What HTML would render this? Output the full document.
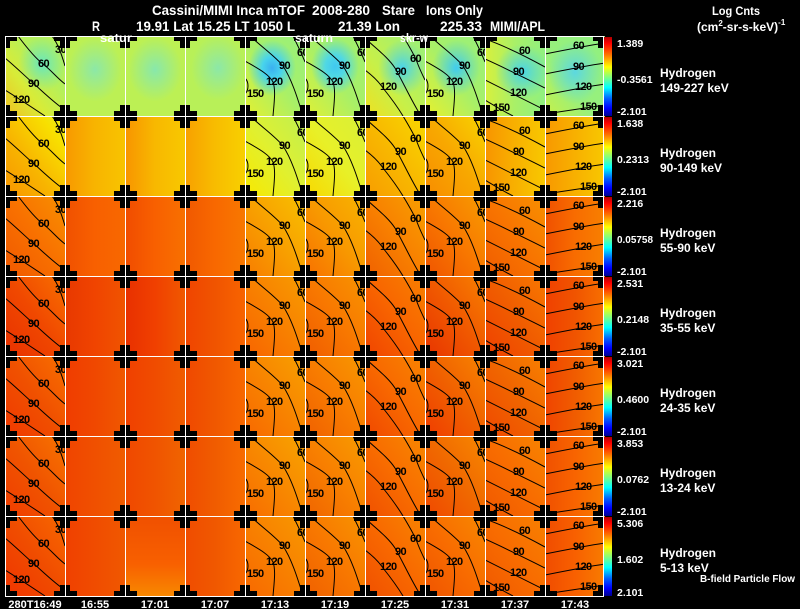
<!DOCTYPE html>
<html><head><meta charset="utf-8"><style>
html,body{margin:0;padding:0;background:#000;}
#w{position:relative;width:800px;height:609px;overflow:hidden;background:#000;}
.p{position:absolute;width:60px;height:80px;}
.r1{top:36px}.r2{top:116px}.r3{top:196px}.r4{top:276px}.r5{top:356px}.r6{top:436px}.r7{top:516px}
.c1{left:5px}.c2{left:65px}.c3{left:125px}.c4{left:185px}.c5{left:245px}.c6{left:305px}.c7{left:365px}.c8{left:425px}.c9{left:485px}.c10{left:545px}
svg.o{position:absolute;left:0;top:0;}
</style></head><body><div id="w">
<!-- Row 1 -->
<div class="p r1 c1" style="background:radial-gradient(ellipse 40% 35% at 62% 35%,rgba(80,228,220,.75),rgba(80,228,220,0)),linear-gradient(to top right,#f0c020 0%,#d8ec38 35%,#b4f05c 65%,#b8f058 100%)"></div>
<div class="p r1 c2" style="background:radial-gradient(ellipse 45% 40% at 50% 42%,#8ce8a8,rgba(140,232,168,0)),#bcf054"></div>
<div class="p r1 c3" style="background:radial-gradient(ellipse 45% 40% at 50% 42%,#88e8ac,rgba(136,232,172,0)),#bcf054"></div>
<div class="p r1 c4" style="background:radial-gradient(ellipse 45% 40% at 55% 40%,#8ce8a8,rgba(140,232,168,0)),#b8f058"></div>
<div class="p r1 c5" style="background:radial-gradient(ellipse 40% 35% at 45% 40%,#3ab0f0 0%,#48d4ec 40%,rgba(72,212,236,0) 100%),linear-gradient(to top right,#e4f030 0%,#a8f068 50%,#98f07c 100%)"></div>
<div class="p r1 c6" style="background:radial-gradient(ellipse 40% 35% at 50% 38%,#40c8f0 0%,#50d8e4 40%,rgba(80,216,228,0) 100%),linear-gradient(to top right,#e0f034 0%,#a8f068 50%,#a0f070 100%)"></div>
<div class="p r1 c7" style="background:radial-gradient(ellipse 40% 35% at 62% 40%,#48d4ec,rgba(72,212,236,0)),linear-gradient(to top right,#f0e020 0%,#c8f048 40%,#98f07c 100%)"></div>
<div class="p r1 c8" style="background:radial-gradient(ellipse 40% 35% at 52% 40%,#40ccf0,rgba(64,204,240,0)),linear-gradient(to top right,#e8f02c 0%,#a8f068 50%,#98f07c 100%)"></div>
<div class="p r1 c9" style="background:radial-gradient(ellipse 45% 35% at 62% 45%,#48d4e8,rgba(72,212,232,0)),linear-gradient(to right,#d8f03c 0%,#a8f068 50%,#90f080 100%)"></div>
<div class="p r1 c10" style="background:radial-gradient(ellipse 45% 40% at 50% 45%,#5cd8e0,rgba(92,216,224,0)),linear-gradient(to top right,#c8f048,#98f07c 40%,#90f080)"></div>
<!-- Row 2 -->
<div class="p r2 c1" style="background:linear-gradient(to top right,#f89400 0%,#f8b400 40%,#f8e000 80%,#e8f020 100%)"></div>
<div class="p r2 c2" style="background:linear-gradient(to right,#f89800,#f8b400 50%,#f8c400)"></div>
<div class="p r2 c3" style="background:linear-gradient(to right,#f89400,#f8b800 50%,#f8c800)"></div>
<div class="p r2 c4" style="background:linear-gradient(to right,#f8a000,#f8bc00 50%,#f8d000)"></div>
<div class="p r2 c5" style="background:linear-gradient(to top right,#f8e800,#e0f030 50%,#c0f050)"></div>
<div class="p r2 c6" style="background:linear-gradient(to top right,#f8d800,#e8f028 50%,#d8f038)"></div>
<div class="p r2 c7" style="background:linear-gradient(to top right,#f89c00,#f8b800 50%,#f8d800)"></div>
<div class="p r2 c8" style="background:linear-gradient(to top right,#f88c00,#f8a800 50%,#f8d400)"></div>
<div class="p r2 c9" style="background:linear-gradient(to right,#f89400,#f8b000 50%,#f8c800)"></div>
<div class="p r2 c10" style="background:linear-gradient(to right,#f89800,#f8b000 50%,#f8c800)"></div>
<!-- Row 3 -->
<div class="p r3 c1" style="background:linear-gradient(to top right,#f05800,#f87000 50%,#f89000)"></div>
<div class="p r3 c2" style="background:linear-gradient(to right,#f05000,#f86000 50%,#f86800)"></div>
<div class="p r3 c3" style="background:linear-gradient(to right,#f04c00,#f86000 50%,#f87000)"></div>
<div class="p r3 c4" style="background:linear-gradient(to right,#f05800,#f86800 50%,#f87800)"></div>
<div class="p r3 c5" style="background:linear-gradient(to top right,#f87c00,#f8a000 50%,#f8c000)"></div>
<div class="p r3 c6" style="background:linear-gradient(to top right,#f87000,#f89800 50%,#f8b400)"></div>
<div class="p r3 c7" style="background:linear-gradient(to top right,#f06000,#f88000 50%,#f8a000)"></div>
<div class="p r3 c8" style="background:linear-gradient(to top right,#f05400,#f87800 50%,#f89c00)"></div>
<div class="p r3 c9" style="background:linear-gradient(to top right,#f05c00,#f87400 50%,#f89000)"></div>
<div class="p r3 c10" style="background:linear-gradient(to right,#f05000,#f86c00 50%,#f88000)"></div>
<!-- Row 4 -->
<div class="p r4 c1" style="background:linear-gradient(to top right,#e83000,#f04800 50%,#f87000)"></div>
<div class="p r4 c2" style="background:linear-gradient(to right,#e83800,#f04400 50%,#f05400)"></div>
<div class="p r4 c3" style="background:linear-gradient(to right,#e83000,#f04000 50%,#f05800)"></div>
<div class="p r4 c4" style="background:linear-gradient(to right,#f04400,#f05400 50%,#f86400)"></div>
<div class="p r4 c5" style="background:linear-gradient(to top right,#f86400,#f88000 50%,#f89c00)"></div>
<div class="p r4 c6" style="background:linear-gradient(to top right,#f05c00,#f87800 50%,#f89400)"></div>
<div class="p r4 c7" style="background:linear-gradient(to top right,#f04400,#f86400 50%,#f88000)"></div>
<div class="p r4 c8" style="background:linear-gradient(to top right,#e83400,#f05800 50%,#f88000)"></div>
<div class="p r4 c9" style="background:linear-gradient(to top right,#f04000,#f05c00 50%,#f87800)"></div>
<div class="p r4 c10" style="background:linear-gradient(to right,#f04000,#f05400 50%,#f87000)"></div>
<!-- Row 5 -->
<div class="p r5 c1" style="background:linear-gradient(to top right,#f03800,#f05000 50%,#f87000)"></div>
<div class="p r5 c2" style="background:linear-gradient(to right,#f03c00,#f04800 50%,#f05800)"></div>
<div class="p r5 c3" style="background:linear-gradient(to right,#f04000,#f04c00 50%,#f05c00)"></div>
<div class="p r5 c4" style="background:linear-gradient(to right,#f04800,#f05800 50%,#f86800)"></div>
<div class="p r5 c5" style="background:linear-gradient(to top right,#f86800,#f88400 50%,#f8a000)"></div>
<div class="p r5 c6" style="background:linear-gradient(to top right,#f06000,#f87c00 50%,#f89800)"></div>
<div class="p r5 c7" style="background:linear-gradient(to top right,#f04800,#f86800 50%,#f88400)"></div>
<div class="p r5 c8" style="background:linear-gradient(to top right,#f03c00,#f06000 50%,#f88400)"></div>
<div class="p r5 c9" style="background:linear-gradient(to top right,#f04800,#f06400 50%,#f88000)"></div>
<div class="p r5 c10" style="background:linear-gradient(to right,#f04400,#f05c00 50%,#f87800)"></div>
<!-- Row 6 -->
<div class="p r6 c1" style="background:linear-gradient(to top right,#f03c00,#f05400 50%,#f87400)"></div>
<div class="p r6 c2" style="background:linear-gradient(to right,#f04400,#f05000 50%,#f05c00)"></div>
<div class="p r6 c3" style="background:linear-gradient(to right,#f04800,#f05400 50%,#f06400)"></div>
<div class="p r6 c4" style="background:linear-gradient(to right,#f04c00,#f05c00 50%,#f86c00)"></div>
<div class="p r6 c5" style="background:linear-gradient(to top right,#f86c00,#f88800 50%,#f8a400)"></div>
<div class="p r6 c6" style="background:linear-gradient(to top right,#f06400,#f88000 50%,#f89c00)"></div>
<div class="p r6 c7" style="background:linear-gradient(to top right,#f05000,#f86c00 50%,#f88800)"></div>
<div class="p r6 c8" style="background:linear-gradient(to top right,#f04800,#f06800 50%,#f88800)"></div>
<div class="p r6 c9" style="background:linear-gradient(to top right,#f05800,#f86c00 50%,#f88400)"></div>
<div class="p r6 c10" style="background:linear-gradient(to right,#f05000,#f86400 50%,#f87c00)"></div>
<!-- Row 7 -->
<div class="p r7 c1" style="background:linear-gradient(to top right,#f03400,#f04c00 50%,#f86800)"></div>
<div class="p r7 c2" style="background:linear-gradient(to right,#f04000,#f04c00 50%,#f05800)"></div>
<div class="p r7 c3" style="background:linear-gradient(to bottom,#f05000,#f86000 60%,#f88800)"></div>
<div class="p r7 c4" style="background:linear-gradient(to right,#f04c00,#f05800 50%,#f86800)"></div>
<div class="p r7 c5" style="background:linear-gradient(to top right,#f86800,#f88000 50%,#f89800)"></div>
<div class="p r7 c6" style="background:linear-gradient(to top right,#f06000,#f87800 50%,#f89400)"></div>
<div class="p r7 c7" style="background:linear-gradient(to top right,#f05000,#f86800 50%,#f88400)"></div>
<div class="p r7 c8" style="background:linear-gradient(to top right,#f05400,#f86c00 50%,#f88800)"></div>
<div class="p r7 c9" style="background:linear-gradient(to top right,#f05800,#f86c00 50%,#f88000)"></div>
<div class="p r7 c10" style="background:linear-gradient(to right,#f04c00,#f86000 50%,#f87c00)"></div>

<svg class="o" width="800" height="609" viewBox="0 0 800 609" xmlns="http://www.w3.org/2000/svg">
<defs>
<g id="pA" fill="none" stroke="#000" stroke-width="1"><path d="M47,0 C52,6 56,16 60,30 M13,0 C22,12 30,22 38,28 S52,42 60,48 M0,22 C12,32 22,42 28,47 S48,66 60,74 M0,54 C10,60 25,70 40,80"/></g>
<g id="pB" fill="none" stroke="#000" stroke-width="1"><path d="M48,0 C52,8 56,16 60,26 M5,0 C18,12 32,22 38,30 C46,42 52,60 58,80 M0,25 C12,32 24,38 28,46 C31,54 29,68 28,80 M0,42 C4,46 4,54 0,58"/></g>
<g id="pC" fill="none" stroke="#000" stroke-width="1"><path d="M38,0 C44,10 50,20 52,26 C55,34 58,40 60,44 M0,2 C10,12 22,20 30,32 C38,46 46,64 56,80 M0,34 C8,40 14,46 18,52 C26,62 32,70 38,80"/></g>
<g id="pD" fill="none" stroke="#000" stroke-width="1"><path d="M0,3 C20,10 40,20 60,31 M0,23 C20,32 40,42 60,52 M0,44 C20,54 40,64 60,74 M0,64 C10,70 20,76 28,80"/></g>
<g id="pE" fill="none" stroke="#000" stroke-width="1"><path d="M0,18 C20,14 40,10 60,7 M0,38 C20,34 40,30 60,27 M0,59 C20,55 40,51 60,48 M0,78 C20,75 40,72 60,69"/></g>
<pattern id="pl" x="-25" y="-4" width="60" height="80" patternUnits="userSpaceOnUse"><rect x="19" y="35" width="23" height="10" fill="#000"/><rect x="25" y="29" width="10" height="23" fill="#000"/></pattern>
<linearGradient id="cb" x1="0" y1="0" x2="0" y2="1">
<stop offset="0" stop-color="#b00000"/><stop offset=".08" stop-color="#ff0000"/><stop offset=".22" stop-color="#ff7000"/><stop offset=".38" stop-color="#ffff00"/><stop offset=".51" stop-color="#80ff80"/><stop offset=".64" stop-color="#00ffff"/><stop offset=".78" stop-color="#0060ff"/><stop offset=".9" stop-color="#0000ff"/><stop offset="1" stop-color="#000090"/>
</linearGradient>
</defs>

<g font-family="Liberation Sans, sans-serif" font-size="11" font-weight="bold" fill="#000" letter-spacing="-0.6">
<!-- row 1 -->
<svg x="5" y="36" width="60" height="80"><use href="#pA"/><text x="50" y="17">30</text><text x="33" y="31">60</text><text x="23" y="51">90</text><text x="8" y="67">120</text></svg>
<svg x="245" y="36" width="60" height="80"><use href="#pB"/><text x="52" y="20">60</text><text x="34" y="33">90</text><text x="21" y="49">120</text><text x="2" y="61">150</text></svg>
<svg x="305" y="36" width="60" height="80"><use href="#pB"/><text x="52" y="20">60</text><text x="34" y="33">90</text><text x="21" y="49">120</text><text x="2" y="61">150</text></svg>
<svg x="365" y="36" width="60" height="80"><use href="#pC"/><text x="45" y="26">60</text><text x="30" y="39">90</text><text x="15" y="54">120</text></svg>
<svg x="425" y="36" width="60" height="80"><use href="#pB"/><text x="52" y="20">60</text><text x="34" y="33">90</text><text x="21" y="49">120</text><text x="2" y="61">150</text></svg>
<svg x="485" y="36" width="60" height="80"><use href="#pD"/><text x="34" y="18">60</text><text x="28" y="39">90</text><text x="25" y="60">120</text><text x="8" y="75">150</text></svg>
<svg x="545" y="36" width="60" height="80"><use href="#pE"/><text x="28" y="13">60</text><text x="28" y="34">90</text><text x="30" y="54">120</text><text x="35" y="74">150</text></svg>
<!-- row 2 -->
<svg x="5" y="116" width="60" height="80"><use href="#pA"/><text x="50" y="17">30</text><text x="33" y="31">60</text><text x="23" y="51">90</text><text x="8" y="67">120</text></svg>
<svg x="245" y="116" width="60" height="80"><use href="#pB"/><text x="52" y="20">60</text><text x="34" y="33">90</text><text x="21" y="49">120</text><text x="2" y="61">150</text></svg>
<svg x="305" y="116" width="60" height="80"><use href="#pB"/><text x="52" y="20">60</text><text x="34" y="33">90</text><text x="21" y="49">120</text><text x="2" y="61">150</text></svg>
<svg x="365" y="116" width="60" height="80"><use href="#pC"/><text x="45" y="26">60</text><text x="30" y="39">90</text><text x="15" y="54">120</text></svg>
<svg x="425" y="116" width="60" height="80"><use href="#pB"/><text x="52" y="20">60</text><text x="34" y="33">90</text><text x="21" y="49">120</text><text x="2" y="61">150</text></svg>
<svg x="485" y="116" width="60" height="80"><use href="#pD"/><text x="34" y="18">60</text><text x="28" y="39">90</text><text x="25" y="60">120</text><text x="8" y="75">150</text></svg>
<svg x="545" y="116" width="60" height="80"><use href="#pE"/><text x="28" y="13">60</text><text x="28" y="34">90</text><text x="30" y="54">120</text><text x="35" y="74">150</text></svg>
<!-- row 3 -->
<svg x="5" y="196" width="60" height="80"><use href="#pA"/><text x="50" y="17">30</text><text x="33" y="31">60</text><text x="23" y="51">90</text><text x="8" y="67">120</text></svg>
<svg x="245" y="196" width="60" height="80"><use href="#pB"/><text x="52" y="20">60</text><text x="34" y="33">90</text><text x="21" y="49">120</text><text x="2" y="61">150</text></svg>
<svg x="305" y="196" width="60" height="80"><use href="#pB"/><text x="52" y="20">60</text><text x="34" y="33">90</text><text x="21" y="49">120</text><text x="2" y="61">150</text></svg>
<svg x="365" y="196" width="60" height="80"><use href="#pC"/><text x="45" y="26">60</text><text x="30" y="39">90</text><text x="15" y="54">120</text></svg>
<svg x="425" y="196" width="60" height="80"><use href="#pB"/><text x="52" y="20">60</text><text x="34" y="33">90</text><text x="21" y="49">120</text><text x="2" y="61">150</text></svg>
<svg x="485" y="196" width="60" height="80"><use href="#pD"/><text x="34" y="18">60</text><text x="28" y="39">90</text><text x="25" y="60">120</text><text x="8" y="75">150</text></svg>
<svg x="545" y="196" width="60" height="80"><use href="#pE"/><text x="28" y="13">60</text><text x="28" y="34">90</text><text x="30" y="54">120</text><text x="35" y="74">150</text></svg>
<!-- row 4 -->
<svg x="5" y="276" width="60" height="80"><use href="#pA"/><text x="50" y="17">30</text><text x="33" y="31">60</text><text x="23" y="51">90</text><text x="8" y="67">120</text></svg>
<svg x="245" y="276" width="60" height="80"><use href="#pB"/><text x="52" y="20">60</text><text x="34" y="33">90</text><text x="21" y="49">120</text><text x="2" y="61">150</text></svg>
<svg x="305" y="276" width="60" height="80"><use href="#pB"/><text x="52" y="20">60</text><text x="34" y="33">90</text><text x="21" y="49">120</text><text x="2" y="61">150</text></svg>
<svg x="365" y="276" width="60" height="80"><use href="#pC"/><text x="45" y="26">60</text><text x="30" y="39">90</text><text x="15" y="54">120</text></svg>
<svg x="425" y="276" width="60" height="80"><use href="#pB"/><text x="52" y="20">60</text><text x="34" y="33">90</text><text x="21" y="49">120</text><text x="2" y="61">150</text></svg>
<svg x="485" y="276" width="60" height="80"><use href="#pD"/><text x="34" y="18">60</text><text x="28" y="39">90</text><text x="25" y="60">120</text><text x="8" y="75">150</text></svg>
<svg x="545" y="276" width="60" height="80"><use href="#pE"/><text x="28" y="13">60</text><text x="28" y="34">90</text><text x="30" y="54">120</text><text x="35" y="74">150</text></svg>
<!-- row 5 -->
<svg x="5" y="356" width="60" height="80"><use href="#pA"/><text x="50" y="17">30</text><text x="33" y="31">60</text><text x="23" y="51">90</text><text x="8" y="67">120</text></svg>
<svg x="245" y="356" width="60" height="80"><use href="#pB"/><text x="52" y="20">60</text><text x="34" y="33">90</text><text x="21" y="49">120</text><text x="2" y="61">150</text></svg>
<svg x="305" y="356" width="60" height="80"><use href="#pB"/><text x="52" y="20">60</text><text x="34" y="33">90</text><text x="21" y="49">120</text><text x="2" y="61">150</text></svg>
<svg x="365" y="356" width="60" height="80"><use href="#pC"/><text x="45" y="26">60</text><text x="30" y="39">90</text><text x="15" y="54">120</text></svg>
<svg x="425" y="356" width="60" height="80"><use href="#pB"/><text x="52" y="20">60</text><text x="34" y="33">90</text><text x="21" y="49">120</text><text x="2" y="61">150</text></svg>
<svg x="485" y="356" width="60" height="80"><use href="#pD"/><text x="34" y="18">60</text><text x="28" y="39">90</text><text x="25" y="60">120</text><text x="8" y="75">150</text></svg>
<svg x="545" y="356" width="60" height="80"><use href="#pE"/><text x="28" y="13">60</text><text x="28" y="34">90</text><text x="30" y="54">120</text><text x="35" y="74">150</text></svg>
<!-- row 6 -->
<svg x="5" y="436" width="60" height="80"><use href="#pA"/><text x="50" y="17">30</text><text x="33" y="31">60</text><text x="23" y="51">90</text><text x="8" y="67">120</text></svg>
<svg x="245" y="436" width="60" height="80"><use href="#pB"/><text x="52" y="20">60</text><text x="34" y="33">90</text><text x="21" y="49">120</text><text x="2" y="61">150</text></svg>
<svg x="305" y="436" width="60" height="80"><use href="#pB"/><text x="52" y="20">60</text><text x="34" y="33">90</text><text x="21" y="49">120</text><text x="2" y="61">150</text></svg>
<svg x="365" y="436" width="60" height="80"><use href="#pC"/><text x="45" y="26">60</text><text x="30" y="39">90</text><text x="15" y="54">120</text></svg>
<svg x="425" y="436" width="60" height="80"><use href="#pB"/><text x="52" y="20">60</text><text x="34" y="33">90</text><text x="21" y="49">120</text><text x="2" y="61">150</text></svg>
<svg x="485" y="436" width="60" height="80"><use href="#pD"/><text x="34" y="18">60</text><text x="28" y="39">90</text><text x="25" y="60">120</text><text x="8" y="75">150</text></svg>
<svg x="545" y="436" width="60" height="80"><use href="#pE"/><text x="28" y="13">60</text><text x="28" y="34">90</text><text x="30" y="54">120</text><text x="35" y="74">150</text></svg>
<!-- row 7 -->
<svg x="5" y="516" width="60" height="80"><use href="#pA"/><text x="50" y="17">30</text><text x="33" y="31">60</text><text x="23" y="51">90</text><text x="8" y="67">120</text></svg>
<svg x="245" y="516" width="60" height="80"><use href="#pB"/><text x="52" y="20">60</text><text x="34" y="33">90</text><text x="21" y="49">120</text><text x="2" y="61">150</text></svg>
<svg x="305" y="516" width="60" height="80"><use href="#pB"/><text x="52" y="20">60</text><text x="34" y="33">90</text><text x="21" y="49">120</text><text x="2" y="61">150</text></svg>
<svg x="365" y="516" width="60" height="80"><use href="#pC"/><text x="45" y="26">60</text><text x="30" y="39">90</text><text x="15" y="54">120</text></svg>
<svg x="425" y="516" width="60" height="80"><use href="#pB"/><text x="52" y="20">60</text><text x="34" y="33">90</text><text x="21" y="49">120</text><text x="2" y="61">150</text></svg>
<svg x="485" y="516" width="60" height="80"><use href="#pD"/><text x="34" y="18">60</text><text x="28" y="39">90</text><text x="25" y="60">120</text><text x="8" y="75">150</text></svg>
<svg x="545" y="516" width="60" height="80"><use href="#pE"/><text x="28" y="13">60</text><text x="28" y="34">90</text><text x="30" y="54">120</text><text x="35" y="74">150</text></svg>
</g>

<!-- black corner crosses -->
<rect x="-6" y="24" width="563" height="584" fill="url(#pl)"/>
<g fill="#000">
<rect x="593" y="31" width="11" height="10"/><rect x="598" y="25" width="6" height="23"/>
<rect x="593" y="111" width="11" height="10"/><rect x="598" y="105" width="6" height="23"/>
<rect x="593" y="191" width="11" height="10"/><rect x="598" y="185" width="6" height="23"/>
<rect x="593" y="271" width="11" height="10"/><rect x="598" y="265" width="6" height="23"/>
<rect x="593" y="351" width="11" height="10"/><rect x="598" y="345" width="6" height="23"/>
<rect x="593" y="431" width="11" height="10"/><rect x="598" y="425" width="6" height="23"/>
<rect x="593" y="511" width="11" height="10"/><rect x="598" y="505" width="6" height="23"/>
<rect x="593" y="591" width="11" height="10"/><rect x="598" y="585" width="6" height="23"/>
</g>

<!-- white grid lines -->
<g fill="#fff">
<rect x="5" y="36" width="1" height="561"/><rect x="65" y="36" width="1" height="561"/><rect x="125" y="36" width="1" height="561"/><rect x="185" y="36" width="1" height="561"/><rect x="245" y="36" width="1" height="561"/><rect x="305" y="36" width="1" height="561"/><rect x="365" y="36" width="1" height="561"/><rect x="425" y="36" width="1" height="561"/><rect x="485" y="36" width="1" height="561"/><rect x="545" y="36" width="1" height="561"/><rect x="603" y="36" width="1" height="561"/>
<rect x="5" y="36" width="599" height="1"/><rect x="5" y="116" width="599" height="1"/><rect x="5" y="196" width="599" height="1"/><rect x="5" y="276" width="599" height="1"/><rect x="5" y="356" width="599" height="1"/><rect x="5" y="436" width="599" height="1"/><rect x="5" y="516" width="599" height="1"/><rect x="5" y="596" width="599" height="1"/>
</g>

<!-- colorbars -->
<rect x="604" y="37" width="8" height="79" fill="url(#cb)"/>
<rect x="604" y="117" width="8" height="79" fill="url(#cb)"/>
<rect x="604" y="197" width="8" height="79" fill="url(#cb)"/>
<rect x="604" y="277" width="8" height="79" fill="url(#cb)"/>
<rect x="604" y="357" width="8" height="79" fill="url(#cb)"/>
<rect x="604" y="437" width="8" height="79" fill="url(#cb)"/>
<rect x="604" y="517" width="8" height="79" fill="url(#cb)"/>

<g font-family="Liberation Sans, sans-serif" fill="#fff" font-weight="bold">
<!-- title -->
<g font-size="14">
<text x="152" y="15" textLength="153" lengthAdjust="spacingAndGlyphs">Cassini/MIMI Inca mTOF</text>
<text x="312" y="15" textLength="58" lengthAdjust="spacingAndGlyphs">2008-280</text>
<text x="382" y="15" textLength="33" lengthAdjust="spacingAndGlyphs">Stare</text>
<text x="426" y="15" textLength="57" lengthAdjust="spacingAndGlyphs">Ions Only</text>
<text x="92" y="31" textLength="8" lengthAdjust="spacingAndGlyphs">R</text>
<text x="136" y="31" textLength="159" lengthAdjust="spacingAndGlyphs">19.91 Lat 15.25 LT 1050 L</text>
<text x="338" y="31" textLength="62" lengthAdjust="spacingAndGlyphs">21.39 Lon</text>
<text x="440" y="31" textLength="42" lengthAdjust="spacingAndGlyphs">225.33</text>
<text x="490" y="31" textLength="55" lengthAdjust="spacingAndGlyphs">MIMI/APL</text>
</g>
<g font-size="12">
<text x="100" y="42" textLength="32" lengthAdjust="spacingAndGlyphs">satur</text>
<text x="295" y="42" textLength="38" lengthAdjust="spacingAndGlyphs">saturn</text>
<text x="400" y="42" textLength="28" lengthAdjust="spacingAndGlyphs">skr-w</text>
</g>
<g font-size="12">
<text x="712" y="15" textLength="48" lengthAdjust="spacingAndGlyphs">Log Cnts</text>
<text x="697" y="31">(cm<tspan font-size="8" dy="-5">2</tspan><tspan dy="5">-sr-s-keV)</tspan><tspan font-size="8" dy="-6">-1</tspan></text>
</g>

<!-- row labels -->
<g font-size="12">
<text x="660" y="77">Hydrogen</text><text x="660" y="92">149-227 keV</text>
<text x="660" y="157">Hydrogen</text><text x="660" y="172">90-149 keV</text>
<text x="660" y="237">Hydrogen</text><text x="660" y="252">55-90 keV</text>
<text x="660" y="317">Hydrogen</text><text x="660" y="332">35-55 keV</text>
<text x="660" y="397">Hydrogen</text><text x="660" y="412">24-35 keV</text>
<text x="660" y="477">Hydrogen</text><text x="660" y="492">13-24 keV</text>
<text x="660" y="557">Hydrogen</text><text x="660" y="572">5-13 keV</text>
</g>
<text x="700" y="582" font-size="10" textLength="95" lengthAdjust="spacingAndGlyphs">B-field Particle Flow</text>

<!-- colorbar labels -->
<g font-size="10.5">
<text x="617" y="47">1.389</text><text x="617" y="83">-0.3561</text><text x="617" y="115">-2.101</text>
<text x="617" y="127">1.638</text><text x="617" y="163">0.2313</text><text x="617" y="195">-2.101</text>
<text x="617" y="207">2.216</text><text x="617" y="243" textLength="36" lengthAdjust="spacingAndGlyphs">0.05758</text><text x="617" y="275">-2.101</text>
<text x="617" y="287">2.531</text><text x="617" y="323">0.2148</text><text x="617" y="355">-2.101</text>
<text x="617" y="367">3.021</text><text x="617" y="403">0.4600</text><text x="617" y="435">-2.101</text>
<text x="617" y="447">3.853</text><text x="617" y="483">0.0762</text><text x="617" y="515">-2.101</text>
<text x="617" y="527">5.306</text><text x="617" y="563">1.602</text><text x="617" y="596">2.101</text>
</g>

<!-- time labels -->
<g font-size="11" text-anchor="middle">
<text x="35" y="608">280T16:49</text>
<text x="95" y="608">16:55</text>
<text x="155" y="608">17:01</text>
<text x="215" y="608">17:07</text>
<text x="275" y="608">17:13</text>
<text x="335" y="608">17:19</text>
<text x="395" y="608">17:25</text>
<text x="455" y="608">17:31</text>
<text x="515" y="608">17:37</text>
<text x="575" y="608">17:43</text>
</g>
</g>
</svg>
</div></body></html>
